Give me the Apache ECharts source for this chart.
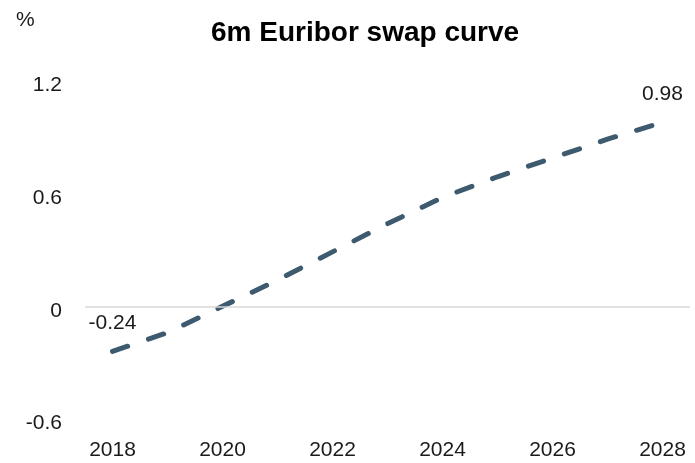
<!DOCTYPE html>
<html lang="en">
<head>
    <meta charset="UTF-8" />
    <title>6m Euribor swap curve</title>
    <script src="https://cdn.jsdelivr.net/npm/echarts@6/dist/echarts.min.js"></script>
    <style>
        html, body { margin: 0; padding: 0; background: #fff; }
        #main { width: 695px; height: 463px; }
    </style>
</head>
<body>
<div id="main"></div>
<script type="text/javascript">
    // data
    var years = ['2018', '2019', '2020', '2021', '2022', '2023', '2024', '2025', '2026', '2027', '2028'];
    var swapRates = [-0.24, -0.14, 0.0, 0.14, 0.29, 0.44, 0.58, 0.69, 0.79, 0.89, 0.98];
    var yTicks = { min: -0.6, max: 1.2, step: 0.6 };

    var font = 'Liberation Sans';
    var txt = '#1a1a1a';

    var myChart = echarts.init(document.getElementById('main'));

    var option = {
        animation: false,
        title: {
            text: '6m Euribor swap curve',
            left: 206,
            top: 14,
            textStyle: { fontFamily: font, fontSize: 28, fontWeight: 'bold', color: '#000' }
        },
        graphic: [{
            type: 'text',
            left: 16,
            top: 10,
            style: { text: '%', font: '21px ' + font, fill: txt }
        }],
        grid: { left: 85, right: 5, top: 81, bottom: 44 },
        xAxis: {
            type: 'category',
            data: years,
            boundaryGap: true,
            axisLine: { show: false },
            axisTick: { show: false },
            axisLabel: { interval: 1, margin: 21, fontFamily: font, fontSize: 21, color: txt }
        },
        yAxis: {
            type: 'value',
            min: yTicks.min,
            max: yTicks.max,
            interval: yTicks.step,
            axisLine: { show: false },
            axisTick: { show: false },
            splitLine: { show: false },
            axisLabel: {
                margin: 23,
                formatter: '{v|{value}}',
                rich: { v: { padding: [9, 0, 0, 0], fontFamily: font, fontSize: 21, color: txt } }
            }
        },
        series: [{
            type: 'line',
            data: swapRates,
            symbol: 'circle',
            symbolSize: 1,
            showSymbol: true,
            itemStyle: { color: 'rgba(0,0,0,0)' },
            lineStyle: { color: '#3e5a6f', width: 5, type: [16, 22], cap: 'round' },
            label: {
                show: true,
                position: 'top',
                distance: 17,
                fontFamily: font,
                fontSize: 21,
                color: txt,
                formatter: function (p) { //<![CDATA[
                    var last = swapRates.length - 1;
                    return (p.dataIndex === 0 || p.dataIndex === last) ? String(p.value) : '';
                    //]]>
                }
            },
            markLine: {
                silent: true,
                symbol: 'none',
                label: { show: false },
                lineStyle: { color: '#d9d9d9', width: 1.5, type: 'solid' },
                data: [{ yAxis: 0 }]
            }
        }]
    };
    myChart.setOption(option);
</script>
</body>
</html>
